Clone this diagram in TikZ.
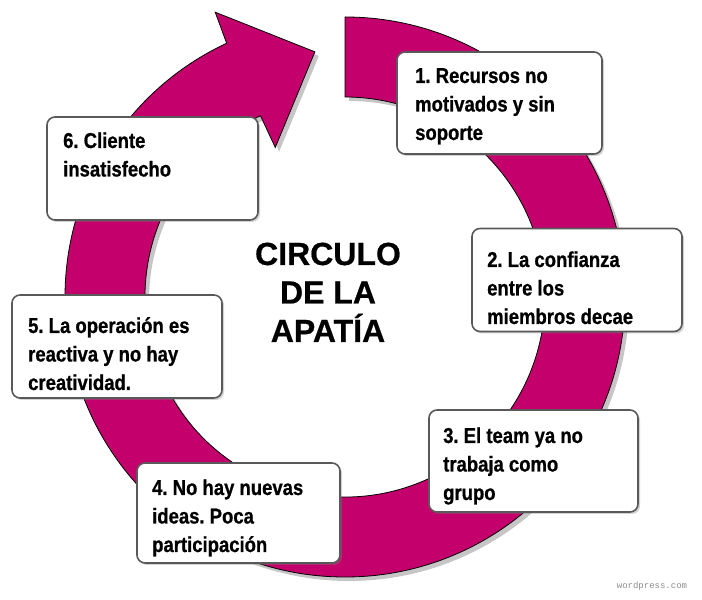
\documentclass[tikz,border=0pt]{standalone}
\usepackage{fontspec}
\setmainfont{Liberation Sans}[FakeBold=0.6]
\newfontfamily\stepfont{Liberation Sans}[FakeStretch=0.86,FakeBold=0.8]
\newfontfamily\markfont{Liberation Mono}
\usetikzlibrary{shadows}
\definecolor{apatia}{RGB}{196,0,108}
\frenchspacing
\begin{document}
\begin{tikzpicture}[x=1pt,y=1pt]
	\tikzstyle{stepbox}=[draw=black!65,line width=1.6pt,rounded corners=8pt,fill=white,drop shadow={shadow xshift=2pt,shadow yshift=-2pt,opacity=0.35}]
	\tikzstyle{steptext}=[anchor=base west,align=left,inner sep=0pt,font=\stepfont\bfseries\fontsize{21.5}{28.5}\selectfont]
	\useasboundingbox (0,0) rectangle (702,600);
	% the ring with its arrow head
	\begin{scope}[shift={(345,303)}]
		\filldraw[fill=apatia,draw=black,line width=0.8pt,drop shadow={shadow xshift=4pt,shadow yshift=-4pt,opacity=0.45}]
			(90:280) arc[start angle=90,end angle=-245,radius=280] -- (114.5:313) -- (97:247)
			-- (115:165) -- (115:200) arc[start angle=-245,end angle=90,radius=200] -- cycle;
	\end{scope}
	% boxes
	\node[stepbox,minimum width=205,minimum height=102] (b1) at (499.5,497) {};
	\node[stepbox,minimum width=210,minimum height=103] (b2) at (577,320) {};
	\node[stepbox,minimum width=209,minimum height=102] (b3) at (533.5,139) {};
	\node[stepbox,minimum width=203,minimum height=100] (b4) at (238.5,87) {};
	\node[stepbox,minimum width=210,minimum height=103] (b5) at (117,253.5) {};
	\node[stepbox,minimum width=211,minimum height=103] (b6) at (152.5,431.5) {};
	% texts (base = last line)
	\node[steptext] (t1) at (415,460) {1. Recursos no\\motivados y sin\\soporte};
	\node[steptext] (t2) at (487,276) {2. La confianza\\entre los\\miembros decae};
	\node[steptext] (t3) at (443,100) {3. El team ya no\\trabaja como\\grupo};
	\node[steptext] (t4) at (152,48) {4. No hay nuevas\\ideas. Poca\\participación};
	\node[steptext] (t5) at (28,210) {5. La operación es\\reactiva y no hay\\creatividad.};
	\node[steptext] (t6) at (63,423.5) {6. Cliente\\insatisfecho};
	\node[anchor=base,align=center,inner sep=0pt,font=\bfseries\fontsize{32}{38.5}\selectfont] (title) at (328,258) {CIRCULO\\DE LA\\APATÍA};
	\node[font=\markfont\fontsize{9}{10}\selectfont,text=black!45] (mark) at (652,14) {wordpress.com};
\end{tikzpicture}
\end{document}
